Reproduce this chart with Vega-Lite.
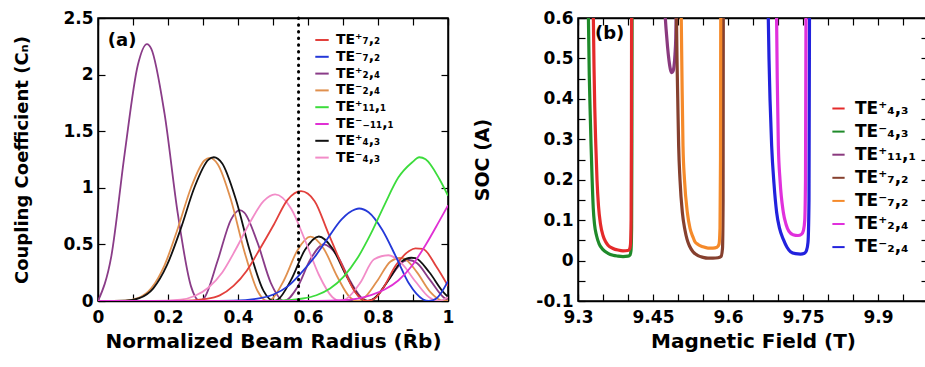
{
  "$schema": "https://vega.github.io/schema/vega-lite/v6.json",
  "background": "white",
  "padding": {"left": 13, "top": 8, "right": 0, "bottom": 0},
  "config": {
    "font": "DejaVu Sans",
    "view": {"stroke": "black", "strokeWidth": 1.5},
    "axis": {"domainColor": "black", "domainWidth": 1.5, "tickColor": "black", "tickSize": -7, "tickWidth": 1.2,
      "labelFont": "DejaVu Sans", "labelFontSize": 17, "labelFontWeight": "bold", "labelColor": "black",
      "titleFont": "DejaVu Sans", "titleFontSize": 20, "titleFontWeight": "bold", "titleColor": "black",
      "grid": false, "labelFlush": false, "labelOverlap": false},
    "axisX": {"labelPadding": 15, "titlePadding": 6},
    "axisY": {"labelPadding": 12},
    "legend": {"labelFont": "DejaVu Sans", "labelFontWeight": "bold", "labelColor": "black", "padding": 0, "symbolType": "stroke", "symbolStrokeWidth": 2, "labelLimit": 300}
  },
  "datasets": {
    "a": [
      {"s":"TE⁺₂,₄","x":0,"y":0},{"s":"TE⁺₂,₄","x":0.038,"y":0.394},{"s":"TE⁺₂,₄","x":0.076,"y":1.298},{"s":"TE⁺₂,₄","x":0.114,"y":2.087},{"s":"TE⁺₂,₄","x":0.14,"y":2.27},{"s":"TE⁺₂,₄","x":0.152,"y":2.23},{"s":"TE⁺₂,₄","x":0.19,"y":1.657},{"s":"TE⁺₂,₄","x":0.228,"y":0.771},{"s":"TE⁺₂,₄","x":0.266,"y":0.127},{"s":"TE⁺₂,₄","x":0.291,"y":0},{"s":"TE⁺₂,₄","x":0.304,"y":0.029},{"s":"TE⁺₂,₄","x":0.342,"y":0.358},{"s":"TE⁺₂,₄","x":0.38,"y":0.719},{"s":"TE⁺₂,₄","x":0.405,"y":0.803},{"s":"TE⁺₂,₄","x":0.418,"y":0.781},{"s":"TE⁺₂,₄","x":0.456,"y":0.513},{"s":"TE⁺₂,₄","x":0.494,"y":0.159},{"s":"TE⁺₂,₄","x":0.532,"y":0},{"s":"TE⁺₂,₄","x":0.57,"y":0.123},{"s":"TE⁺₂,₄","x":0.607,"y":0.369},{"s":"TE⁺₂,₄","x":0.645,"y":0.5},{"s":"TE⁺₂,₄","x":0.683,"y":0.403},{"s":"TE⁺₂,₄","x":0.721,"y":0.174},{"s":"TE⁺₂,₄","x":0.759,"y":0.013},{"s":"TE⁺₂,₄","x":0.772,"y":0},{"s":"TE⁺₂,₄","x":0.797,"y":0.042},{"s":"TE⁺₂,₄","x":0.835,"y":0.21},{"s":"TE⁺₂,₄","x":0.873,"y":0.35},{"s":"TE⁺₂,₄","x":0.888,"y":0.362},{"s":"TE⁺₂,₄","x":0.911,"y":0.335},{"s":"TE⁺₂,₄","x":0.949,"y":0.184},{"s":"TE⁺₂,₄","x":0.987,"y":0.033},{"s":"TE⁺₂,₄","x":1,"y":0.007},

      {"s":"TE⁻₂,₄","x":0,"y":0},{"s":"TE⁻₂,₄","x":0.076,"y":0.003},{"s":"TE⁻₂,₄","x":0.114,"y":0.025},{"s":"TE⁻₂,₄","x":0.152,"y":0.111},{"s":"TE⁻₂,₄","x":0.19,"y":0.315},{"s":"TE⁻₂,₄","x":0.228,"y":0.641},{"s":"TE⁻₂,₄","x":0.266,"y":1.003},{"s":"TE⁻₂,₄","x":0.304,"y":1.241},{"s":"TE⁻₂,₄","x":0.319,"y":1.265},{"s":"TE⁻₂,₄","x":0.342,"y":1.209},{"s":"TE⁻₂,₄","x":0.38,"y":0.892},{"s":"TE⁻₂,₄","x":0.418,"y":0.44},{"s":"TE⁻₂,₄","x":0.456,"y":0.088},{"s":"TE⁻₂,₄","x":0.484,"y":0},{"s":"TE⁻₂,₄","x":0.494,"y":0.01},{"s":"TE⁻₂,₄","x":0.532,"y":0.188},{"s":"TE⁻₂,₄","x":0.57,"y":0.449},{"s":"TE⁻₂,₄","x":0.607,"y":0.568},{"s":"TE⁻₂,₄","x":0.645,"y":0.462},{"s":"TE⁻₂,₄","x":0.683,"y":0.219},{"s":"TE⁻₂,₄","x":0.721,"y":0.029},{"s":"TE⁻₂,₄","x":0.741,"y":0},{"s":"TE⁻₂,₄","x":0.759,"y":0.023},{"s":"TE⁻₂,₄","x":0.797,"y":0.174},{"s":"TE⁻₂,₄","x":0.835,"y":0.347},{"s":"TE⁻₂,₄","x":0.862,"y":0.38},{"s":"TE⁻₂,₄","x":0.873,"y":0.377},{"s":"TE⁻₂,₄","x":0.911,"y":0.255},{"s":"TE⁻₂,₄","x":0.949,"y":0.081},{"s":"TE⁻₂,₄","x":0.987,"y":0},{"s":"TE⁻₂,₄","x":1,"y":0.006},

      {"s":"TE⁺₄,₃","x":0,"y":0},{"s":"TE⁺₄,₃","x":0.079,"y":0.003},{"s":"TE⁺₄,₃","x":0.118,"y":0.025},{"s":"TE⁺₄,₃","x":0.158,"y":0.112},{"s":"TE⁺₄,₃","x":0.197,"y":0.316},{"s":"TE⁺₄,₃","x":0.237,"y":0.643},{"s":"TE⁺₄,₃","x":0.276,"y":1.007},{"s":"TE⁺₄,₃","x":0.315,"y":1.246},{"s":"TE⁺₄,₃","x":0.331,"y":1.27},{"s":"TE⁺₄,₃","x":0.355,"y":1.214},{"s":"TE⁺₄,₃","x":0.394,"y":0.896},{"s":"TE⁺₄,₃","x":0.434,"y":0.441},{"s":"TE⁺₄,₃","x":0.473,"y":0.089},{"s":"TE⁺₄,₃","x":0.503,"y":0},{"s":"TE⁺₄,₃","x":0.513,"y":0.01},{"s":"TE⁺₄,₃","x":0.552,"y":0.189},{"s":"TE⁺₄,₃","x":0.591,"y":0.45},{"s":"TE⁺₄,₃","x":0.631,"y":0.57},{"s":"TE⁺₄,₃","x":0.67,"y":0.464},{"s":"TE⁺₄,₃","x":0.71,"y":0.22},{"s":"TE⁺₄,₃","x":0.749,"y":0.029},{"s":"TE⁺₄,₃","x":0.77,"y":0},{"s":"TE⁺₄,₃","x":0.789,"y":0.023},{"s":"TE⁺₄,₃","x":0.828,"y":0.175},{"s":"TE⁺₄,₃","x":0.867,"y":0.348},{"s":"TE⁺₄,₃","x":0.895,"y":0.382},{"s":"TE⁺₄,₃","x":0.907,"y":0.378},{"s":"TE⁺₄,₃","x":0.946,"y":0.256},{"s":"TE⁺₄,₃","x":0.986,"y":0.081},{"s":"TE⁺₄,₃","x":1,"y":0.037},

      {"s":"TE⁻₄,₃","x":0,"y":0},{"s":"TE⁻₄,₃","x":0.158,"y":0},{"s":"TE⁻₄,₃","x":0.237,"y":0.012},{"s":"TE⁻₄,₃","x":0.276,"y":0.044},{"s":"TE⁻₄,₃","x":0.315,"y":0.117},{"s":"TE⁻₄,₃","x":0.355,"y":0.252},{"s":"TE⁻₄,₃","x":0.394,"y":0.459},{"s":"TE⁻₄,₃","x":0.434,"y":0.693},{"s":"TE⁻₄,₃","x":0.473,"y":0.882},{"s":"TE⁻₄,₃","x":0.506,"y":0.942},{"s":"TE⁻₄,₃","x":0.552,"y":0.815},{"s":"TE⁻₄,₃","x":0.591,"y":0.541},{"s":"TE⁻₄,₃","x":0.631,"y":0.232},{"s":"TE⁻₄,₃","x":0.67,"y":0.033},{"s":"TE⁻₄,₃","x":0.692,"y":0},{"s":"TE⁻₄,₃","x":0.71,"y":0.02},{"s":"TE⁻₄,₃","x":0.749,"y":0.16},{"s":"TE⁻₄,₃","x":0.789,"y":0.369},{"s":"TE⁻₄,₃","x":0.83,"y":0.404},{"s":"TE⁻₄,₃","x":0.867,"y":0.335},{"s":"TE⁻₄,₃","x":0.907,"y":0.172},{"s":"TE⁻₄,₃","x":0.946,"y":0.033},{"s":"TE⁻₄,₃","x":0.973,"y":0},{"s":"TE⁻₄,₃","x":1,"y":0.033},

      {"s":"TE⁺₇,₂","x":0,"y":0},{"s":"TE⁺₇,₂","x":0.15,"y":0},{"s":"TE⁺₇,₂","x":0.232,"y":0.001},{"s":"TE⁺₇,₂","x":0.309,"y":0.019},{"s":"TE⁺₇,₂","x":0.348,"y":0.05},{"s":"TE⁺₇,₂","x":0.387,"y":0.133},{"s":"TE⁺₇,₂","x":0.425,"y":0.268},{"s":"TE⁺₇,₂","x":0.464,"y":0.468},{"s":"TE⁺₇,₂","x":0.503,"y":0.678},{"s":"TE⁺₇,₂","x":0.541,"y":0.891},{"s":"TE⁺₇,₂","x":0.58,"y":0.97},{"s":"TE⁺₇,₂","x":0.619,"y":0.882},{"s":"TE⁺₇,₂","x":0.657,"y":0.607},{"s":"TE⁺₇,₂","x":0.696,"y":0.323},{"s":"TE⁺₇,₂","x":0.735,"y":0.077},{"s":"TE⁺₇,₂","x":0.768,"y":0},{"s":"TE⁺₇,₂","x":0.79,"y":0.02},{"s":"TE⁺₇,₂","x":0.812,"y":0.101},{"s":"TE⁺₇,₂","x":0.851,"y":0.315},{"s":"TE⁺₇,₂","x":0.889,"y":0.442},{"s":"TE⁺₇,₂","x":0.907,"y":0.465},{"s":"TE⁺₇,₂","x":0.928,"y":0.46},{"s":"TE⁺₇,₂","x":0.967,"y":0.302},{"s":"TE⁺₇,₂","x":1,"y":0.133},

      {"s":"TE⁻₇,₂","x":0,"y":0},{"s":"TE⁻₇,₂","x":0.3,"y":0},{"s":"TE⁻₇,₂","x":0.387,"y":0.003},{"s":"TE⁻₇,₂","x":0.464,"y":0.025},{"s":"TE⁻₇,₂","x":0.503,"y":0.06},{"s":"TE⁻₇,₂","x":0.541,"y":0.127},{"s":"TE⁻₇,₂","x":0.58,"y":0.246},{"s":"TE⁻₇,₂","x":0.619,"y":0.388},{"s":"TE⁻₇,₂","x":0.657,"y":0.557},{"s":"TE⁻₇,₂","x":0.696,"y":0.722},{"s":"TE⁻₇,₂","x":0.735,"y":0.81},{"s":"TE⁻₇,₂","x":0.746,"y":0.817},{"s":"TE⁻₇,₂","x":0.773,"y":0.784},{"s":"TE⁻₇,₂","x":0.812,"y":0.63},{"s":"TE⁻₇,₂","x":0.851,"y":0.393},{"s":"TE⁻₇,₂","x":0.889,"y":0.152},{"s":"TE⁻₇,₂","x":0.928,"y":0.016},{"s":"TE⁻₇,₂","x":0.945,"y":0},{"s":"TE⁻₇,₂","x":0.967,"y":0.023},{"s":"TE⁻₇,₂","x":1,"y":0.175},

      {"s":"TE⁺₁₁,₁","x":0,"y":0},{"s":"TE⁺₁₁,₁","x":0.468,"y":0.001},{"s":"TE⁺₁₁,₁","x":0.546,"y":0.008},{"s":"TE⁺₁₁,₁","x":0.585,"y":0.022},{"s":"TE⁺₁₁,₁","x":0.624,"y":0.051},{"s":"TE⁺₁₁,₁","x":0.663,"y":0.11},{"s":"TE⁺₁₁,₁","x":0.702,"y":0.216},{"s":"TE⁺₁₁,₁","x":0.741,"y":0.377},{"s":"TE⁺₁₁,₁","x":0.78,"y":0.597},{"s":"TE⁺₁₁,₁","x":0.819,"y":0.852},{"s":"TE⁺₁₁,₁","x":0.858,"y":1.09},{"s":"TE⁺₁₁,₁","x":0.897,"y":1.223},{"s":"TE⁺₁₁,₁","x":0.918,"y":1.27},{"s":"TE⁺₁₁,₁","x":0.936,"y":1.252},{"s":"TE⁺₁₁,₁","x":0.975,"y":1.08},{"s":"TE⁺₁₁,₁","x":1,"y":0.93},

      {"s":"TE⁻₋₁₁,₁","x":0,"y":0},{"s":"TE⁻₋₁₁,₁","x":0.624,"y":0.001},{"s":"TE⁻₋₁₁,₁","x":0.702,"y":0.007},{"s":"TE⁻₋₁₁,₁","x":0.741,"y":0.021},{"s":"TE⁻₋₁₁,₁","x":0.78,"y":0.052},{"s":"TE⁻₋₁₁,₁","x":0.819,"y":0.101},{"s":"TE⁻₋₁₁,₁","x":0.858,"y":0.181},{"s":"TE⁻₋₁₁,₁","x":0.897,"y":0.312},{"s":"TE⁻₋₁₁,₁","x":0.936,"y":0.495},{"s":"TE⁻₋₁₁,₁","x":0.975,"y":0.706},{"s":"TE⁻₋₁₁,₁","x":1,"y":0.845}
    ],
    "aRule": [{"x": 0.573}],
    "aText": [{"x": 0.028, "y": 2.3, "t": "(a)"}],
    "b": [
      {"s":"TE⁻₄,₃","x":9.3206,"y":0.62},{"s":"TE⁻₄,₃","x":9.3225,"y":0.46},{"s":"TE⁻₄,₃","x":9.3245,"y":0.36},{"s":"TE⁻₄,₃","x":9.326,"y":0.29},{"s":"TE⁻₄,₃","x":9.328,"y":0.21},{"s":"TE⁻₄,₃","x":9.3305,"y":0.13},{"s":"TE⁻₄,₃","x":9.333,"y":0.09},{"s":"TE⁻₄,₃","x":9.337,"y":0.062},{"s":"TE⁻₄,₃","x":9.342,"y":0.042},{"s":"TE⁻₄,₃","x":9.35,"y":0.027},{"s":"TE⁻₄,₃","x":9.36,"y":0.018},{"s":"TE⁻₄,₃","x":9.37,"y":0.013},{"s":"TE⁻₄,₃","x":9.38,"y":0.011},{"s":"TE⁻₄,₃","x":9.39,"y":0.01},{"s":"TE⁻₄,₃","x":9.4,"y":0.011},{"s":"TE⁻₄,₃","x":9.404,"y":0.014},{"s":"TE⁻₄,₃","x":9.406,"y":0.025},{"s":"TE⁻₄,₃","x":9.4072,"y":0.08},{"s":"TE⁻₄,₃","x":9.4078,"y":0.3},{"s":"TE⁻₄,₃","x":9.4082,"y":0.62},

      {"s":"TE⁺₄,₃","x":9.3305,"y":0.62},{"s":"TE⁺₄,₃","x":9.332,"y":0.48},{"s":"TE⁺₄,₃","x":9.3335,"y":0.38},{"s":"TE⁺₄,₃","x":9.3355,"y":0.29},{"s":"TE⁺₄,₃","x":9.338,"y":0.2},{"s":"TE⁺₄,₃","x":9.341,"y":0.135},{"s":"TE⁺₄,₃","x":9.345,"y":0.09},{"s":"TE⁺₄,₃","x":9.35,"y":0.062},{"s":"TE⁺₄,₃","x":9.355,"y":0.047},{"s":"TE⁺₄,₃","x":9.36,"y":0.038},{"s":"TE⁺₄,₃","x":9.37,"y":0.03},{"s":"TE⁺₄,₃","x":9.38,"y":0.026},{"s":"TE⁺₄,₃","x":9.39,"y":0.024},{"s":"TE⁺₄,₃","x":9.4,"y":0.025},{"s":"TE⁺₄,₃","x":9.403,"y":0.028},{"s":"TE⁺₄,₃","x":9.405,"y":0.04},{"s":"TE⁺₄,₃","x":9.4062,"y":0.1},{"s":"TE⁺₄,₃","x":9.4068,"y":0.3},{"s":"TE⁺₄,₃","x":9.4072,"y":0.62},

      {"s":"TE⁺₁₁,₁","x":9.4735,"y":0.62},{"s":"TE⁺₁₁,₁","x":9.476,"y":0.575},{"s":"TE⁺₁₁,₁","x":9.479,"y":0.53},{"s":"TE⁺₁₁,₁","x":9.482,"y":0.495},{"s":"TE⁺₁₁,₁","x":9.485,"y":0.472},{"s":"TE⁺₁₁,₁","x":9.4875,"y":0.465},{"s":"TE⁺₁₁,₁","x":9.49,"y":0.468},{"s":"TE⁺₁₁,₁","x":9.492,"y":0.48},{"s":"TE⁺₁₁,₁","x":9.494,"y":0.51},{"s":"TE⁺₁₁,₁","x":9.4955,"y":0.55},{"s":"TE⁺₁₁,₁","x":9.4965,"y":0.62},

      {"s":"TE⁺₇,₂","x":9.4968,"y":0.62},{"s":"TE⁺₇,₂","x":9.498,"y":0.5},{"s":"TE⁺₇,₂","x":9.4995,"y":0.4},{"s":"TE⁺₇,₂","x":9.5013,"y":0.284},{"s":"TE⁺₇,₂","x":9.504,"y":0.2},{"s":"TE⁺₇,₂","x":9.5087,"y":0.119},{"s":"TE⁺₇,₂","x":9.514,"y":0.075},{"s":"TE⁺₇,₂","x":9.518,"y":0.053},{"s":"TE⁺₇,₂","x":9.523,"y":0.036},{"s":"TE⁺₇,₂","x":9.53,"y":0.022},{"s":"TE⁺₇,₂","x":9.54,"y":0.012},{"s":"TE⁺₇,₂","x":9.55,"y":0.008},{"s":"TE⁺₇,₂","x":9.56,"y":0.006},{"s":"TE⁺₇,₂","x":9.57,"y":0.006},{"s":"TE⁺₇,₂","x":9.58,"y":0.007},{"s":"TE⁺₇,₂","x":9.586,"y":0.01},{"s":"TE⁺₇,₂","x":9.589,"y":0.03},{"s":"TE⁺₇,₂","x":9.5902,"y":0.15},{"s":"TE⁺₇,₂","x":9.5906,"y":0.62},

      {"s":"TE⁻₇,₂","x":9.5063,"y":0.62},{"s":"TE⁻₇,₂","x":9.508,"y":0.45},{"s":"TE⁻₇,₂","x":9.51,"y":0.284},{"s":"TE⁻₇,₂","x":9.513,"y":0.2},{"s":"TE⁻₇,₂","x":9.5187,"y":0.119},{"s":"TE⁻₇,₂","x":9.524,"y":0.08},{"s":"TE⁻₇,₂","x":9.53,"y":0.058},{"s":"TE⁻₇,₂","x":9.5333,"y":0.048},{"s":"TE⁻₇,₂","x":9.54,"y":0.04},{"s":"TE⁻₇,₂","x":9.55,"y":0.034},{"s":"TE⁻₇,₂","x":9.56,"y":0.031},{"s":"TE⁻₇,₂","x":9.57,"y":0.031},{"s":"TE⁻₇,₂","x":9.578,"y":0.033},{"s":"TE⁻₇,₂","x":9.582,"y":0.04},{"s":"TE⁻₇,₂","x":9.584,"y":0.08},{"s":"TE⁻₇,₂","x":9.585,"y":0.25},{"s":"TE⁻₇,₂","x":9.5855,"y":0.62},

      {"s":"TE⁻₂,₄","x":9.6803,"y":0.62},{"s":"TE⁻₂,₄","x":9.682,"y":0.5},{"s":"TE⁻₂,₄","x":9.684,"y":0.4},{"s":"TE⁻₂,₄","x":9.6873,"y":0.284},{"s":"TE⁻₂,₄","x":9.692,"y":0.19},{"s":"TE⁻₂,₄","x":9.6973,"y":0.119},{"s":"TE⁻₂,₄","x":9.703,"y":0.08},{"s":"TE⁻₂,₄","x":9.7107,"y":0.0525},{"s":"TE⁻₂,₄","x":9.718,"y":0.033},{"s":"TE⁻₂,₄","x":9.725,"y":0.022},{"s":"TE⁻₂,₄","x":9.735,"y":0.017},{"s":"TE⁻₂,₄","x":9.745,"y":0.016},{"s":"TE⁻₂,₄","x":9.753,"y":0.018},{"s":"TE⁻₂,₄","x":9.757,"y":0.025},{"s":"TE⁻₂,₄","x":9.76,"y":0.045},{"s":"TE⁻₂,₄","x":9.762,"y":0.15},{"s":"TE⁻₂,₄","x":9.763,"y":0.62},

      {"s":"TE⁺₂,₄","x":9.697,"y":0.62},{"s":"TE⁺₂,₄","x":9.6985,"y":0.45},{"s":"TE⁺₂,₄","x":9.7007,"y":0.284},{"s":"TE⁺₂,₄","x":9.704,"y":0.2},{"s":"TE⁺₂,₄","x":9.7107,"y":0.119},{"s":"TE⁺₂,₄","x":9.716,"y":0.09},{"s":"TE⁺₂,₄","x":9.722,"y":0.072},{"s":"TE⁺₂,₄","x":9.73,"y":0.064},{"s":"TE⁺₂,₄","x":9.74,"y":0.062},{"s":"TE⁺₂,₄","x":9.747,"y":0.065},{"s":"TE⁺₂,₄","x":9.751,"y":0.075},{"s":"TE⁺₂,₄","x":9.7535,"y":0.1},{"s":"TE⁺₂,₄","x":9.755,"y":0.2},{"s":"TE⁺₂,₄","x":9.756,"y":0.62}
    ],
    "bText": [{"x": 9.334, "y": 0.56, "t": "(b)"}]
  },
  "resolve": {"scale": {"color": "independent"}},
  "bounds": "flush",
  "spacing": 130,
  "hconcat": [
    {
      "width": 350, "height": 283,
      "resolve": {"axis": {"x": "independent", "y": "independent"}},
      "layer": [
        {
          "data": {"name": "a"},
          "mark": {"type": "line", "strokeWidth": 1.8, "clip": true, "interpolate": "monotone"},
          "encoding": {
            "x": {"field": "x", "type": "quantitative", "scale": {"domain": [0, 1], "nice": false},
              "title": "Normalized Beam Radius (R̄b)",
              "axis": {"values": [0,0.1,0.2,0.3,0.4,0.5,0.6,0.7,0.8,0.9,1], "labelExpr": "indexof([0,0.2,0.4,0.6,0.8,1], datum.value) >= 0 ? toString(datum.value) : ''"}},
            "y": {"field": "y", "type": "quantitative", "scale": {"domain": [0, 2.5], "nice": false},
              "title": "Coupling Coefficient (Cₙ)",
              "axis": {"values": [0,0.5,1,1.5,2,2.5], "labelExpr": "toString(datum.value)", "titlePadding": 31, "titleFontSize": 18}},
            "color": {"field": "s", "type": "nominal",
              "scale": {"domain": ["TE⁺₇,₂","TE⁻₇,₂","TE⁺₂,₄","TE⁻₂,₄","TE⁺₁₁,₁","TE⁻₋₁₁,₁","TE⁺₄,₃","TE⁻₄,₃"],
                "range": ["#e2403c","#2438d8","#8a3c88","#e0904e","#3cdc3c","#e030d4","#111111","#f28cc8"]},
              "legend": {"title": null, "orient": "none", "legendX": 216, "legendY": 14, "labelFontSize": 14, "symbolSize": 180, "rowPadding": 1.8, "labelOffset": 6}}
          }
        },
        {
          "data": {"name": "aRule"},
          "mark": {"type": "rule", "color": "black", "strokeWidth": 3, "strokeDash": [0.5, 6.2], "strokeCap": "round"},
          "encoding": {"x": {"field": "x", "type": "quantitative", "scale": {"domain": [0, 1], "nice": false}, "axis": null}}
        },
        {
          "data": {"name": "aText"},
          "mark": {"type": "text", "fontSize": 18, "fontWeight": "bold", "align": "left", "baseline": "middle", "color": "black"},
          "encoding": {
            "x": {"field": "x", "type": "quantitative", "scale": {"domain": [0, 1], "nice": false}, "title": null,
              "axis": {"orient": "top", "values": [0,0.1,0.2,0.3,0.4,0.5,0.6,0.7,0.8,0.9,1], "labels": false}},
            "y": {"field": "y", "type": "quantitative", "scale": {"domain": [0, 2.5], "nice": false}, "title": null,
              "axis": {"orient": "right", "values": [0,0.5,1,1.5,2,2.5], "labels": false}},
            "text": {"field": "t"}
          }
        }
      ]
    },
    {
      "width": 350, "height": 283,
      "resolve": {"axis": {"x": "independent", "y": "independent"}},
      "layer": [
        {
          "data": {"name": "b"},
          "mark": {"type": "line", "strokeWidth": 3.2, "clip": true, "interpolate": "monotone"},
          "encoding": {
            "x": {"field": "x", "type": "quantitative", "scale": {"domain": [9.3, 10.0], "nice": false, "zero": false},
              "title": "Magnetic Field (T)",
              "axis": {"values": [9.3,9.35,9.4,9.45,9.5,9.55,9.6,9.65,9.7,9.75,9.8,9.85,9.9,9.95,10.0], "labelExpr": "indexof([9.3,9.45,9.6,9.75,9.9], datum.value) >= 0 ? toString(datum.value) : ''"}},
            "y": {"field": "y", "type": "quantitative", "scale": {"domain": [-0.1, 0.6], "nice": false, "zero": false},
              "title": "SOC (A)",
              "axis": {"values": [-0.1,-0.05,0,0.05,0.1,0.15,0.2,0.25,0.3,0.35,0.4,0.45,0.5,0.55,0.6], "labelExpr": "indexof([-0.1,0,0.1,0.2,0.3,0.4,0.5,0.6], datum.value) >= 0 ? toString(datum.value) : ''", "titlePadding": 43, "titleFontSize": 19}},
            "color": {"field": "s", "type": "nominal",
              "scale": {"domain": ["TE⁺₄,₃","TE⁻₄,₃","TE⁺₁₁,₁","TE⁺₇,₂","TE⁻₇,₂","TE⁺₂,₄","TE⁻₂,₄"],
                "range": ["#e42a2a","#1f8a2a","#8a3a7e","#86402e","#f58a2a","#e030dc","#2222dd"]},
              "legend": {"title": null, "orient": "none", "legendX": 252, "legendY": 82, "labelFontSize": 17, "symbolSize": 150, "rowPadding": 5.1, "labelOffset": 8}}
          }
        },
        {
          "data": {"name": "bText"},
          "mark": {"type": "text", "fontSize": 18, "fontWeight": "bold", "align": "left", "baseline": "middle", "color": "black"},
          "encoding": {
            "x": {"field": "x", "type": "quantitative", "scale": {"domain": [9.3, 10.0], "nice": false, "zero": false}, "title": null,
              "axis": {"orient": "top", "values": [9.3,9.35,9.4,9.45,9.5,9.55,9.6,9.65,9.7,9.75,9.8,9.85,9.9,9.95,10.0], "labels": false}},
            "y": {"field": "y", "type": "quantitative", "scale": {"domain": [-0.1, 0.6], "nice": false, "zero": false}, "title": null,
              "axis": {"orient": "right", "values": [-0.1,-0.05,0,0.05,0.1,0.15,0.2,0.25,0.3,0.35,0.4,0.45,0.5,0.55,0.6], "labels": false}},
            "text": {"field": "t"}
          }
        }
      ]
    }
  ]
}
